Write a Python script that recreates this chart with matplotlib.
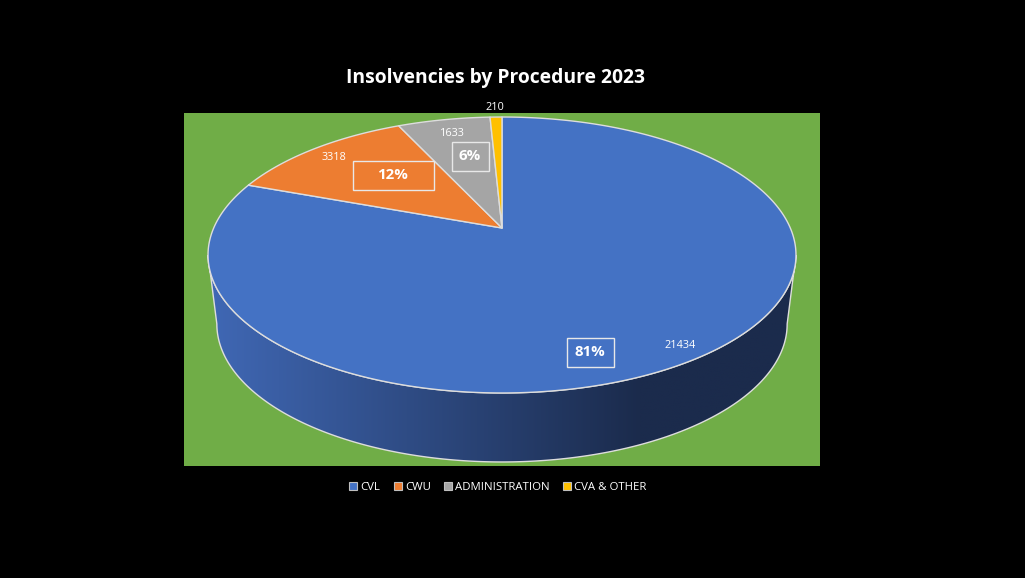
import numpy as np
import matplotlib
matplotlib.use('Agg')
import matplotlib.pyplot as plt
from matplotlib.patches import Polygon, Rectangle, Patch

# data
categories = ['CVL', 'CWU', 'ADMINISTRATION', 'CVA & OTHER']
values = [21434, 3318, 1633, 210]
colors = ['#4472C4', '#ED7D31', '#A5A5A5', '#FFC000']

# label placement (pixels) - value labels and percentage boxes
value_pos = [(680, 345), (334, 158), (452, 133), (495, 107)]
pct_pos = [(590, 352), (393, 175), (470, 156), None]
pct_box_w = [47, 81, 37, 0]
pct_box_h = 29

# pie geometry (pixels) - simple perspective of a flat disc
cx, apex_y = 502, 228
A, B, p = 288.3, 132.7, 0.1956
depth = 69
bottom_shrink = 0.97


def proj(t_deg):
    t = np.radians(t_deg)
    u, w = np.cos(t), np.sin(t)
    d = 1 + p * w
    return cx + u * A / d, apex_y - w * B / d


def main():
    fig = plt.figure(figsize=(10.25, 5.78), dpi=100, facecolor='black')
    ax = fig.add_axes([0, 0, 1, 1])
    ax.set_xlim(0, 1025)
    ax.set_ylim(578, 0)
    ax.axis('off')
    ax.set_facecolor('black')

    ax.add_patch(Rectangle((184, 113), 636, 353, facecolor='#70AD47', edgecolor='none', zorder=0))

    edge = '#DDDDDD'

    # side of the disc
    t_left = 180 + np.degrees(np.arcsin(p))
    t_right = 360 - np.degrees(np.arcsin(p))
    ts = np.linspace(t_left, t_right, 300)
    tx, ty = proj(ts)
    bx = cx + (tx - cx) * bottom_shrink
    side = np.vstack([np.column_stack([tx, ty]), np.column_stack([bx, ty + depth])[::-1]])
    side_patch = Polygon(side, closed=True, facecolor='none', edgecolor=edge, lw=1.0, zorder=3)
    ax.add_patch(side_patch)

    gx = np.linspace(205, 800, 400)
    c0 = np.array([64, 104, 181]) / 255
    c1 = np.array([27, 43, 76]) / 255
    f = np.clip((gx - 208) / (640 - 208), 0, 1)[:, None]
    grad = (c0 * (1 - f) + c1 * f)[None, :, :]
    im = ax.imshow(grad, extent=[205, 800, 470, 240], aspect='auto', zorder=2, interpolation='bilinear')
    clip = Polygon(side, closed=True, transform=ax.transData)
    im.set_clip_path(clip)

    # top face wedges, clockwise from 12 o'clock
    total = sum(values)
    start = 90.0
    for val, col in zip(values, colors):
        sweep = 360.0 * val / total
        arc = np.linspace(start, start - sweep, max(int(sweep * 2), 4))
        ax_, ay_ = proj(arc)
        pts = np.vstack([[cx, apex_y], np.column_stack([ax_, ay_])])
        ax.add_patch(Polygon(pts, closed=True, facecolor=col, edgecolor=edge, lw=1.0,
                             joinstyle='round', zorder=4))
        start -= sweep

    # labels
    font = 'Open Sans'
    for val, vp, pp, bw in zip(values, value_pos, pct_pos, pct_box_w):
        ax.text(vp[0], vp[1], f'{val}', color='white', fontsize=7.8, family=font,
                ha='center', va='center', zorder=6)
        if pp is not None:
            ax.add_patch(Rectangle((pp[0] - bw / 2, pp[1] - pct_box_h / 2), bw, pct_box_h,
                                   facecolor='none', edgecolor='#E8E8E8', lw=1.0, zorder=5))
            ax.text(pp[0], pp[1], f'{round(100 * val / total)}%', color='white', fontsize=10.8,
                    fontweight='bold', family=font, ha='center', va='center', zorder=6)

    ax.text(495, 78, 'Insolvencies by Procedure 2023', color='white', fontsize=13.9,
            fontweight='bold', family=font, ha='center', va='center')

    handles = [Patch(facecolor=c, edgecolor='#BFBFBF', lw=0.8) for c in colors]
    leg = ax.legend(handles, categories, loc='center', bbox_to_anchor=(498 / 1025, 1 - 487 / 578),
                    ncol=4, frameon=False, handlelength=0.7, handleheight=0.7,
                    handletextpad=0.3, columnspacing=1.15, prop={'family': font, 'size': 8.2})
    for t in leg.get_texts():
        t.set_color('white')

    fig.savefig('out.png', dpi=100, facecolor='black')
    return 0


if __name__ == '__main__':
    main()
